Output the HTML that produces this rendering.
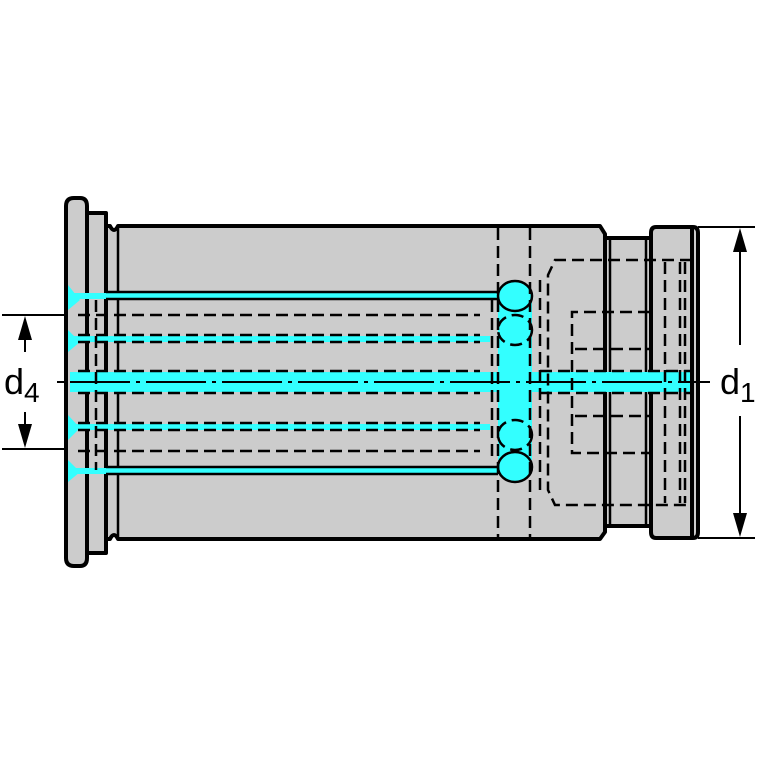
<!DOCTYPE html>
<html><head><meta charset="utf-8"><style>html,body{margin:0;padding:0;background:#fff}svg{display:block}</style></head><body>
<svg width="767" height="767" viewBox="0 0 767 767" xmlns="http://www.w3.org/2000/svg" font-family="Liberation Sans, sans-serif">
<g fill="#cccccc" stroke="#000" stroke-width="4" stroke-linejoin="round">
<path d="M66,206 Q66,198 74,198 L80,198 Q87,198 87,206 L87,558 Q87,566 80,566 L74,566 Q66,566 66,558 Z"/>
<path d="M87,213 L106,213 L106,553 L87,553 Z"/>
<path d="M106,226 L110,226 Q114,234 118,226 L600,226 L605,234 L605,532 L600,539 L118,539 Q114,531 110,539 L106,539 Z"/>
<path d="M605,238 L652,238 L652,526 L605,526 Z"/>
<path d="M656,227 L693,227 Q698,227 698,233 L698,532 Q698,538 693,538 L656,538 Q651,538 651,532 L651,233 Q651,227 656,227 Z"/>
</g>
<g stroke="#000" stroke-width="2.5" fill="none">
<line x1="610" y1="240" x2="610" y2="524"/>
<line x1="646" y1="240" x2="646" y2="524"/>
<line x1="692" y1="229" x2="692" y2="536" stroke-width="4"/>
<line x1="118" y1="228" x2="118" y2="537"/>
</g>
<g fill="#33ffff">
<rect x="70" y="293" width="430" height="6"/>
<rect x="70" y="336" width="420" height="6"/>
<rect x="70" y="372" width="620" height="20"/>
<rect x="70" y="424" width="420" height="6"/>
<rect x="70" y="468" width="430" height="6"/>
<rect x="498" y="300" width="34" height="160"/>
<ellipse cx="515" cy="296" rx="17" ry="15"/>
<ellipse cx="515" cy="330" rx="17" ry="15"/>
<ellipse cx="515" cy="435" rx="17" ry="15"/>
<ellipse cx="515" cy="467" rx="17" ry="15"/>
<path d="M68,285 L80,300 L68,310 Z M68,330 L80,342 L68,352 Z M68,415 L80,428 L68,440 Z M68,460 L80,472 L68,482 Z"/>
</g>
<g stroke="#000" stroke-width="2.5" fill="none">
<ellipse cx="515" cy="296" rx="17" ry="15"/>
<ellipse cx="515" cy="467" rx="17" ry="15"/>
<line x1="106" y1="292" x2="498" y2="292"/><line x1="106" y1="299" x2="498" y2="299"/>
<line x1="106" y1="467" x2="498" y2="467"/><line x1="106" y1="474" x2="498" y2="474"/>
</g>
<g stroke="#000" stroke-width="2.5" fill="none" stroke-dasharray="12,6">
<line x1="78" y1="315" x2="480" y2="315"/>
<line x1="78" y1="335" x2="480" y2="335"/><line x1="78" y1="342" x2="480" y2="342"/>
<line x1="78" y1="371" x2="480" y2="371"/><line x1="78" y1="393" x2="480" y2="393"/>
<line x1="78" y1="423" x2="480" y2="423"/><line x1="78" y1="430" x2="480" y2="430"/>
<line x1="78" y1="451" x2="480" y2="451"/>
<line x1="498" y1="228" x2="498" y2="537"/><line x1="530" y1="228" x2="530" y2="537"/>
<line x1="492" y1="300" x2="492" y2="460"/>
<line x1="540" y1="280" x2="540" y2="490"/>
<path d="M692,260 L555,260 L548,275 L548,490 L555,505 L692,505"/>
<path d="M650,312 L572,312 L572,453 L650,453"/>
<line x1="575" y1="349" x2="650" y2="349"/><line x1="575" y1="416" x2="650" y2="416"/>
<line x1="665" y1="262" x2="665" y2="503"/><line x1="685" y1="262" x2="685" y2="503"/>
<line x1="680" y1="262" x2="680" y2="503"/>
<line x1="540" y1="371" x2="690" y2="371"/><line x1="540" y1="393" x2="690" y2="393"/>
<line x1="96" y1="300" x2="96" y2="470"/>
<ellipse cx="515" cy="330" rx="17" ry="15"/>
<ellipse cx="515" cy="435" rx="17" ry="15"/>
</g>
<line x1="70" y1="382" x2="705" y2="382" stroke="#000" stroke-width="2" stroke-dasharray="60,6,4,6"/>
<g stroke="#000" stroke-width="2">
<line x1="2" y1="315" x2="66" y2="315"/><line x1="2" y1="449" x2="66" y2="449"/>
<line x1="25" y1="335" x2="25" y2="352"/><line x1="25" y1="412" x2="25" y2="430"/>
<line x1="698" y1="227" x2="755" y2="227"/><line x1="698" y1="538" x2="755" y2="538"/>
<line x1="740" y1="245" x2="740" y2="345"/><line x1="740" y1="416" x2="740" y2="520"/>
<line x1="57" y1="382" x2="66" y2="382"/><line x1="698" y1="382" x2="710" y2="382"/>
</g>
<g fill="#000">
<path d="M25,316 L18,340 L32,340 Z"/><path d="M25,448 L18,424 L32,424 Z"/>
<path d="M740,228 L733,252 L747,252 Z"/><path d="M740,537 L733,513 L747,513 Z"/>
</g>
<text x="4" y="394" font-size="36">d<tspan font-size="28" dy="8">4</tspan></text>
<text x="720" y="394" font-size="36">d<tspan font-size="28" dy="8">1</tspan></text>
</svg>
</body></html>
